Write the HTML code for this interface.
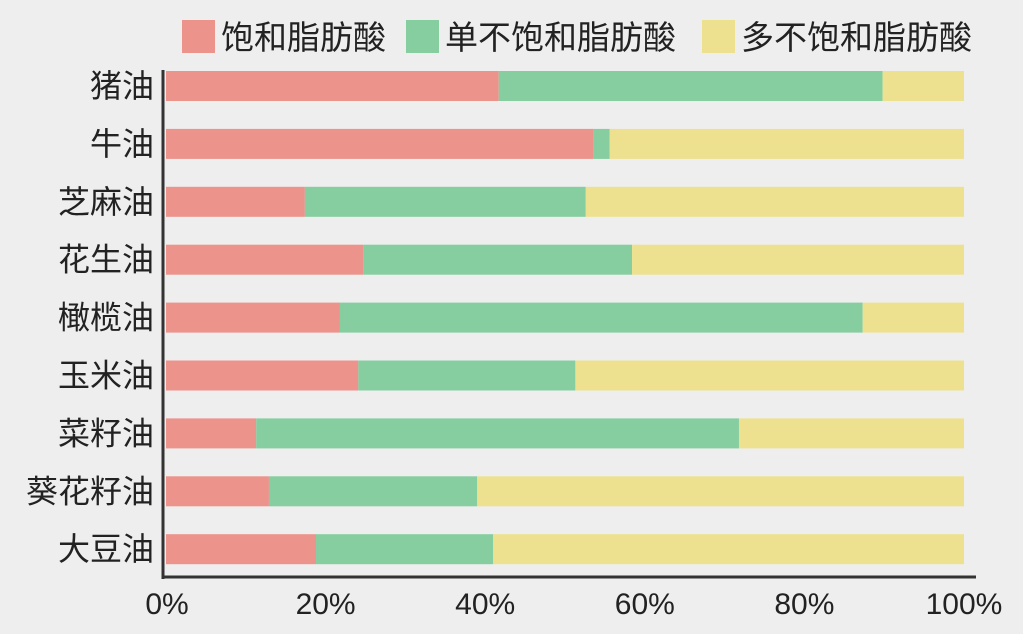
<!DOCTYPE html>
<html><head><meta charset="utf-8"><style>
html,body{margin:0;padding:0;background:#eeeeee;}
svg{display:block;font-family:"Liberation Sans","Noto Sans CJK SC",sans-serif;}
</style></head><body>
<svg id="chart" width="1023" height="634" viewBox="0 0 1023 634">
<rect width="1023" height="634" fill="#eeeeee"/>
<g id="legend"></g>
<g id="bars"></g>
<g id="axes"></g>
</svg>
<script>
const categories=["猪油","牛油","芝麻油","花生油","橄榄油","玉米油","菜籽油","葵花籽油","大豆油"];
const saturated=[41.7,53.6,17.4,24.7,21.8,24.1,11.3,12.9,18.8];
const mono=[48.1,2.0,35.2,33.7,65.5,27.2,60.5,26.1,22.2];
const poly=[10.2,44.4,47.4,41.6,12.7,48.7,28.2,61.0,59.0];
const seriesNames=["饱和脂肪酸","单不饱和脂肪酸","多不饱和脂肪酸"];
const ticks=[0,20,40,60,80,100];
const tickLabels=["0%","20%","40%","60%","80%","100%"];
const colors=["#ec938b","#86cda0","#ede18f"];
const NS="http://www.w3.org/2000/svg";
const x0=166,x1=964,y0=86,step=57.9,bh=30;
const xs=v=>x0+(x1-x0)*v/100;
const ys=i=>y0+i*step;
function mk(t,a,p){const e=document.createElementNS(NS,t);for(const k in a)e.setAttribute(k,a[k]);p.appendChild(e);return e;}
const bars=document.getElementById('bars'),axes=document.getElementById('axes'),legend=document.getElementById('legend');
const series=[saturated,mono,poly];
categories.forEach((c,i)=>{
  let acc=0;
  series.forEach((s,j)=>{
    const r=mk('rect',{x:xs(acc),y:ys(i)-bh/2,width:xs(acc+s[i])-xs(acc),height:bh,fill:colors[j]},bars);
    
    
    acc+=s[i];
  });
  const t=mk('text',{x:154,y:ys(i)+11,'text-anchor':'end','font-size':32,fill:'#222'},axes);
  t.textContent=c;
  
  
});
mk('line',{x1:163,y1:70,x2:163,y2:579,stroke:'#333','stroke-width':3},axes);
mk('line',{x1:162,y1:577,x2:976,y2:577,stroke:'#333','stroke-width':3},axes);
ticks.forEach((v,k)=>{
  const t=mk('text',{x:xs(v)+(k==0?1:0),y:614,'text-anchor':'middle','font-size':30,fill:'#222'},axes);
  t.textContent=tickLabels[k];
  
  
});
const lx=[182,406,702];
seriesNames.forEach((n,j)=>{
  const r=mk('rect',{x:lx[j],y:20,width:33,height:33,fill:colors[j]},legend);
  
  
  const t=mk('text',{x:lx[j]+39,y:49,'font-size':33,fill:'#222'},legend);
  t.textContent=n;
  
  
});
</script>
</body></html>
